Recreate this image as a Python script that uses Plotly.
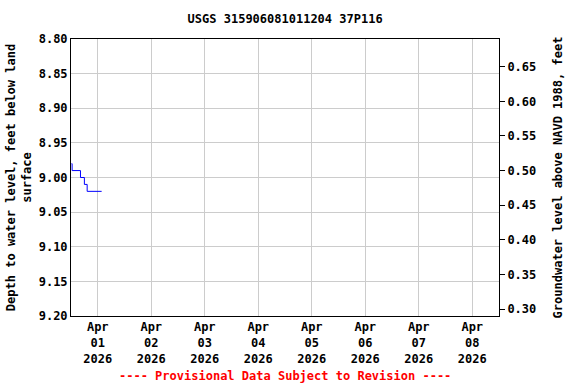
import plotly.graph_objects as go

times = ["2026-03-31 12:15", "2026-03-31 12:30", "2026-03-31 16:15",
         "2026-03-31 18:00", "2026-03-31 19:15", "2026-04-01 01:45"]
depth = [8.98, 8.99, 9.00, 9.01, 9.02, 9.02]
datum = 9.49  # NAVD 1988 offset: level = datum - depth
level = [round(datum - d, 3) for d in depth]

tick_dates = ["2026-04-01", "2026-04-02", "2026-04-03", "2026-04-04",
              "2026-04-05", "2026-04-06", "2026-04-07", "2026-04-08"]
tick_text = ["Apr<br>01<br>2026", "Apr<br>02<br>2026", "Apr<br>03<br>2026", "Apr<br>04<br>2026",
             "Apr<br>05<br>2026", "Apr<br>06<br>2026", "Apr<br>07<br>2026", "Apr<br>08<br>2026"]
left_ticks = [8.80, 8.85, 8.90, 8.95, 9.00, 9.05, 9.10, 9.15, 9.20]
right_ticks = [0.30, 0.35, 0.40, 0.45, 0.50, 0.55, 0.60, 0.65]

FONT = "DejaVu Sans Mono"

fig = go.Figure()
fig.add_trace(go.Scatter(x=times, y=depth, mode="lines", line=dict(color="#0000ff", width=1, shape="hv"),
                         showlegend=False))
fig.add_trace(go.Scatter(x=times, y=level, mode="lines", line=dict(width=0), opacity=0,
                         yaxis="y2", showlegend=False, hoverinfo="skip"))

fig.update_layout(
    width=576, height=384,
    margin=dict(l=71, r=77, t=39, b=68, autoexpand=False),
    paper_bgcolor="white", plot_bgcolor="white",
    font=dict(family=FONT, size=12, color="black"),
    title=dict(text="<b>USGS 315906081011204 37P116</b>", x=0.495, xanchor="center", y=0.95, yanchor="middle",
               font=dict(family=FONT, size=12)),
    xaxis=dict(type="date", range=["2026-03-31 12:00", "2026-04-08 12:00"],
               tickvals=tick_dates, ticktext=["<b>%s</b>" % t for t in tick_text],
               showgrid=True, gridcolor="#cccccc", gridwidth=1, automargin=False,
               showline=True, linecolor="black", linewidth=1, mirror=True,
               ticks="", zeroline=False, tickfont=dict(family=FONT, size=12)),
    yaxis=dict(range=[9.20, 8.80], tickvals=left_ticks,
               ticktext=["<b>%.2f</b>" % v for v in left_ticks],
               showgrid=True, gridcolor="#cccccc", gridwidth=1, automargin=False,
               showline=True, linecolor="black", linewidth=1, mirror=True,
               ticks="", zeroline=False, tickfont=dict(family=FONT, size=12),
               title=dict(text="<b>Depth to water level, feet below land<br>surface</b>",
                          font=dict(family=FONT, size=12), standoff=4)),
    yaxis2=dict(overlaying="y", side="right", range=[datum - 9.20, datum - 8.80],
                tickvals=right_ticks, ticktext=["<b>%.2f</b>" % v for v in right_ticks],
                showgrid=False, zeroline=False, showline=True, linecolor="black", linewidth=1,
                automargin=False,
                ticks="outside", ticklen=5, tickcolor="black", tickfont=dict(family=FONT, size=12),
                title=dict(text="<b>Groundwater level above NAVD 1988, feet</b>",
                           font=dict(family=FONT, size=12), standoff=18)),
    annotations=[dict(text="<b>---- Provisional Data Subject to Revision ----</b>",
                      xref="paper", yref="paper", x=0.5, y=-0.215, xanchor="center", yanchor="middle",
                      showarrow=False, font=dict(family=FONT, size=12, color="red"))],
)

fig.write_html("out.html", config={"displayModeBar": False},
               post_script="document.body.style.margin='0';document.body.style.overflow='hidden';")
